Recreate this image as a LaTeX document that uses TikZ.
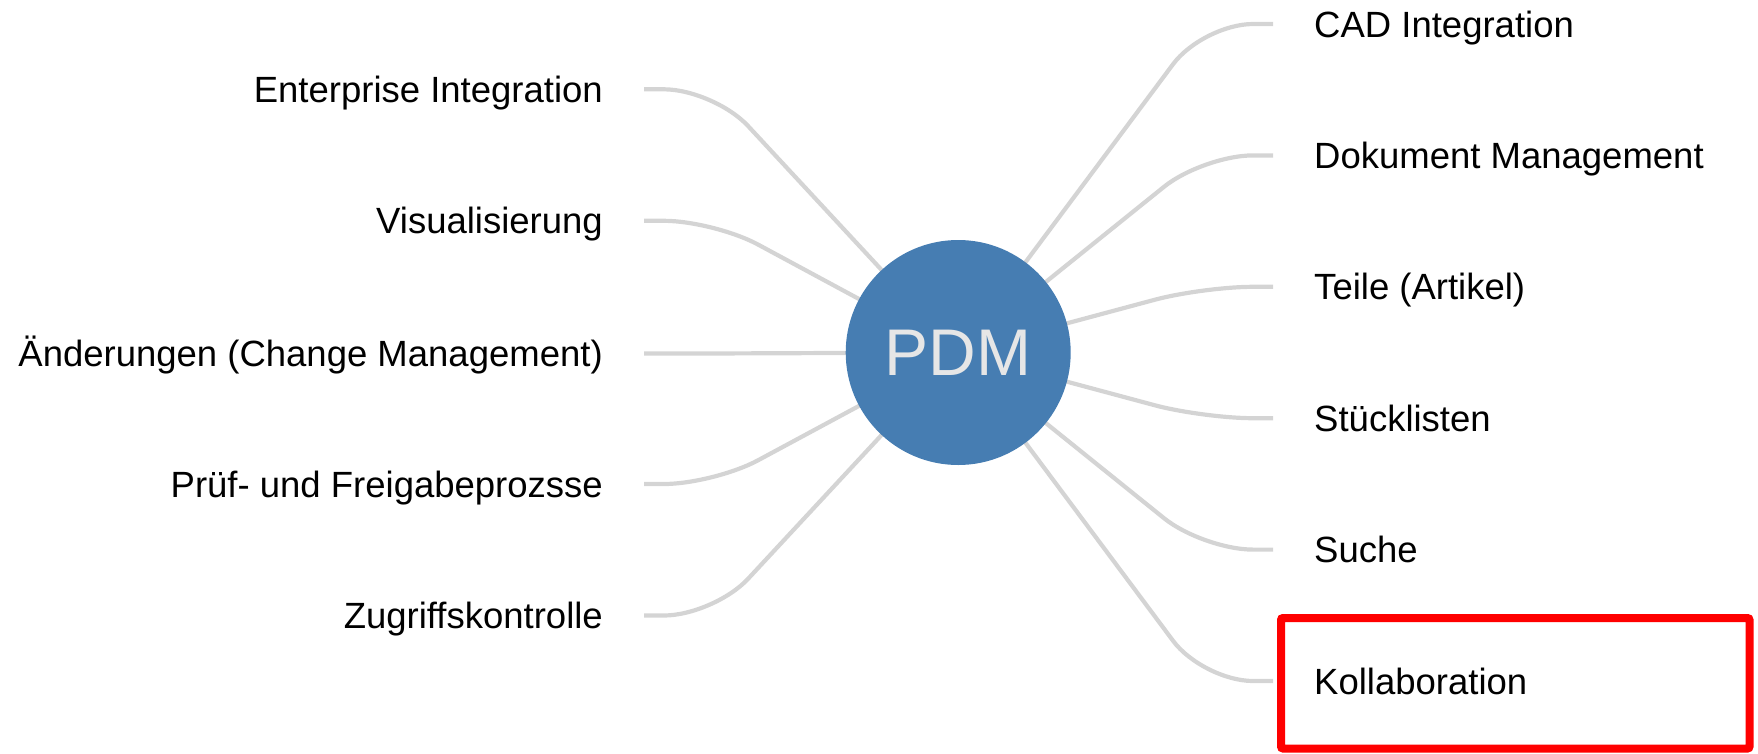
\documentclass[tikz,border=0pt]{standalone}
\usepackage{fontspec}
\setmainfont{Liberation Sans}
\usetikzlibrary{backgrounds}
\definecolor{pdmblue}{RGB}{70,125,178}
\definecolor{pdmtext}{RGB}{230,230,230}
\definecolor{linkgray}{RGB}{212,212,212}
\begin{document}
\begin{tikzpicture}[x=1pt,y=-1pt,
  lbl/.style={font=\fontsize{36.5pt}{44pt}\selectfont, inner xsep=41pt, inner ysep=0pt,
              text height=26.1pt, text depth=0pt},
  lleft/.style={lbl, anchor=east},
  lright/.style={lbl, anchor=west},
  link/.style={draw=linkgray, line width=4.2pt, rounded corners=50pt},
  hub/.style={circle, fill=pdmblue, minimum size=225pt, inner sep=0pt,
              text=pdmtext, font=\fontsize{66pt}{70pt}\selectfont},
  highlight/.style={draw=red, line width=8pt, rounded corners=2pt}]
\useasboundingbox (0,0) rectangle (1758,753);

\node[hub] (pdm) at (958.2,352.5) {PDM};

% left labels
\node[lleft] (ent) at (644,89.3)  {Enterprise Integration};
\node[lleft] (vis) at (644,220.8) {Visualisierung};
\node[lleft] (aen) at (644,353.5) {Änderungen (Change Management)};
\node[lleft] (pru) at (644,484.0) {Prüf- und Freigabeprozsse};
\node[lleft] (zug) at (644,615.5) {Zugriffskontrolle};

% right labels
\node[lright] (cad) at (1273,24.0)  {CAD Integration};
\node[lright] (dok) at (1273,155.4) {Dokument Management};
\node[lright] (tei) at (1273,286.8) {Teile (Artikel)};
\node[lright] (stu) at (1273,418.2) {Stücklisten};
\node[lright] (suc) at (1273,549.6) {Suche};
\node[lright] (kol) at (1273,681.0) {Kollaboration};

\begin{pgfonlayer}{background}
  \foreach \n in {ent,vis,aen,pru,zug}
    \draw[link] (\n.east) -- ++(70,0) -- (pdm.center);
  \foreach \n in {cad,dok,tei,stu,suc,kol}
    \draw[link] (\n.west) -- ++(-70,0) -- (pdm.center);
\end{pgfonlayer}

\draw[highlight] (1281,618) rectangle (1749.5,748.5);
\end{tikzpicture}
\end{document}
